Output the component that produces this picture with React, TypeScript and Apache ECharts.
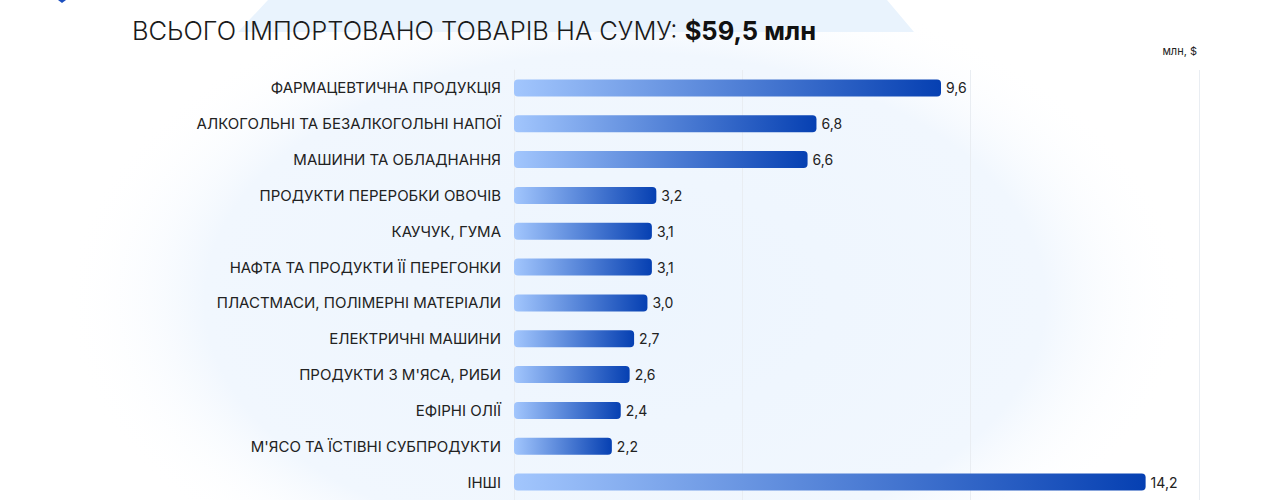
import React, { useEffect, useRef } from "react";
import * as echarts from "echarts";

const categories = [
  "ФАРМАЦЕВТИЧНА ПРОДУКЦІЯ",
  "АЛКОГОЛЬНІ ТА БЕЗАЛКОГОЛЬНІ НАПОЇ",
  "МАШИНИ ТА ОБЛАДНАННЯ",
  "ПРОДУКТИ ПЕРЕРОБКИ ОВОЧІВ",
  "КАУЧУК, ГУМА",
  "НАФТА ТА ПРОДУКТИ ЇЇ ПЕРЕГОНКИ",
  "ПЛАСТМАСИ, ПОЛІМЕРНІ МАТЕРІАЛИ",
  "ЕЛЕКТРИЧНІ МАШИНИ",
  "ПРОДУКТИ З М'ЯСА, РИБИ",
  "ЕФІРНІ ОЛІЇ",
  "М'ЯСО ТА ЇСТІВНІ СУБПРОДУКТИ",
  "ІНШІ",
];
const values = [9.6, 6.8, 6.6, 3.2, 3.1, 3.1, 3.0, 2.7, 2.6, 2.4, 2.2, 14.2];
const titleText = "ВСЬОГО ІМПОРТОВАНО ТОВАРІВ НА СУМУ: ";
const titleTotal = "$59,5 млн";
const unitText = "млн, $";

const FONT = "Inter, 'Noto Sans', sans-serif";

export default function App() {
  const ref = useRef<HTMLDivElement>(null);
  useEffect(() => {
    document.body.style.margin = "0";
    if (!ref.current) return;
    const chart = echarts.init(ref.current, null, { renderer: "svg" });
    chart.setOption({
      animation: false,
      backgroundColor: "#ffffff",
      textStyle: { fontFamily: FONT },
      graphic: [
        {
          type: "ellipse",
          z: -20,
          silent: true,
          shape: { cx: 625, cy: 300, rx: 560, ry: 330 },
          style: {
            fill: new echarts.graphic.RadialGradient(0.5, 0.5, 0.5, [
              { offset: 0, color: "#edf5fe" },
              { offset: 0.75, color: "#f1f7fe" },
              { offset: 1, color: "rgba(255,255,255,0)" },
            ]),
          },
        },
        {
          type: "polygon",
          z: -19,
          silent: true,
          shape: {
            points: [
              [268, 0],
              [887, 0],
              [914, 32],
              [238, 32],
            ],
          },
          style: { fill: "#e9f3fd" },
        },
        {
          type: "polygon",
          z: -18,
          silent: true,
          shape: {
            points: [
              [58, 0],
              [66, 0],
              [62, 3],
            ],
          },
          style: { fill: "#1c4fbf" },
        },
        {
          type: "text",
          left: 132,
          top: 17,
          style: {
            rich: {
              a: { fontSize: 25.5, fontWeight: 300, fill: "#1a1a1a", fontFamily: FONT },
              b: { fontSize: 25.5, fontWeight: 700, fill: "#111111", fontFamily: FONT },
            },
            text: "{a|" + titleText + "}{b|" + titleTotal + "}",
          },
        },
        {
          type: "text",
          right: 83,
          top: 45,
          style: {
            text: unitText,
            fontSize: 11,
            fill: "#222222",
            fontFamily: FONT,
          },
        },
      ],
      grid: { left: 514, top: 70, width: 685, height: 432, containLabel: false },
      xAxis: [
        {
          type: "value",
          min: 0,
          max: 15,
          interval: 5,
          axisLabel: { show: false },
          axisTick: { show: false },
          axisLine: { show: false },
          splitLine: { show: true, lineStyle: { color: "#e9edf2", width: 1 } },
        },
        {
          type: "value",
          min: 0,
          max: 15.4,
          show: false,
          splitLine: { show: false },
        },
      ],
      yAxis: {
        type: "category",
        data: categories,
        inverse: true,
        axisLine: { show: true, lineStyle: { color: "#e9edf2" } },
        axisTick: { show: false },
        axisLabel: {
          margin: 13,
          fontSize: 15,
          color: "#222222",
          fontFamily: FONT,
        },
      },
      series: [
        {
          type: "bar",
          xAxisIndex: 1,
          data: values,
          barWidth: 17,
          itemStyle: {
            borderRadius: 4,
            color: new echarts.graphic.LinearGradient(0, 0, 1, 0, [
              { offset: 0, color: "#a2c6fd" },
              { offset: 1, color: "#0640b2" },
            ]),
          },
          label: {
            show: true,
            position: "right",
            distance: 5,
            fontSize: 14,
            color: "#222222",
            fontFamily: FONT,
            formatter: (p: any) => String(p.value.toFixed(1)).replace(".", ","),
          },
        },
      ],
    });
    return () => chart.dispose();
  }, []);
  return <div ref={ref} style={{ width: 1280, height: 500 }} />;
}
